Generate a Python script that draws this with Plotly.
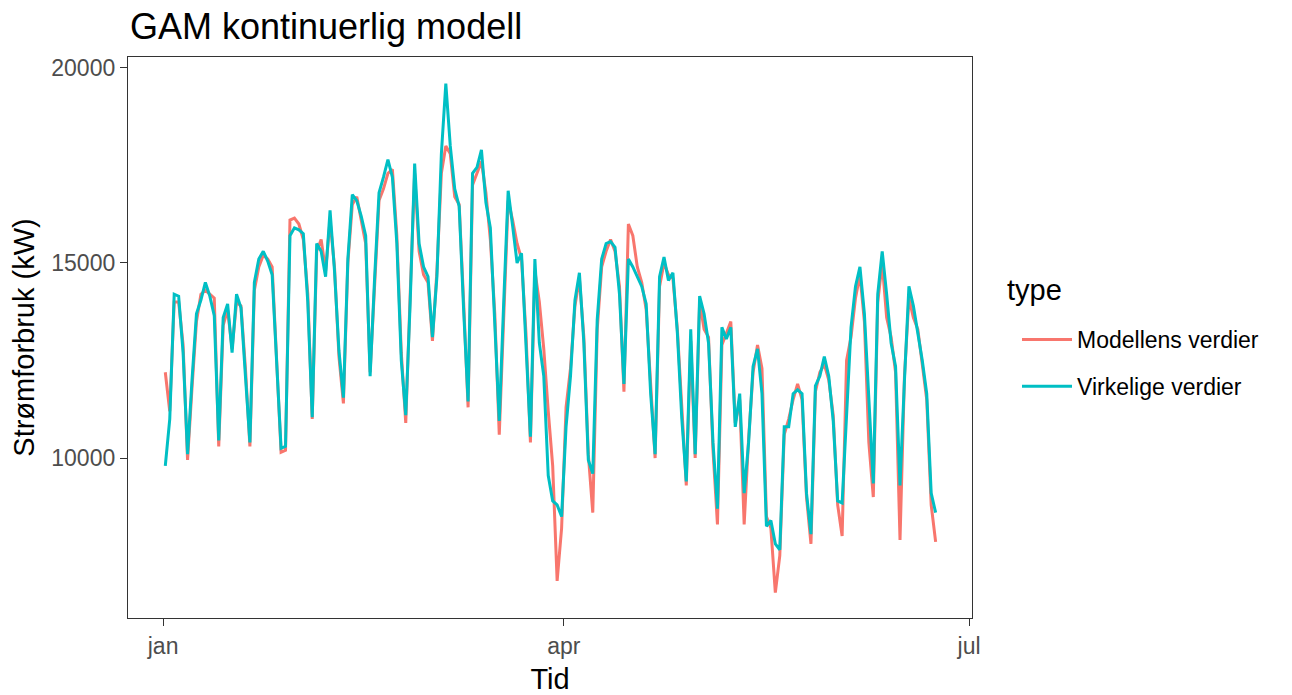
import pandas as pd
import plotly.graph_objects as go

# Daily series, 2018-01-01 .. 2018-06-23
start_date = "2018-01-01 12:00"

virkelige = [
    9800, 11000, 14200, 14150, 12700, 10100, 12000, 13700, 14050, 14500,
    14150, 13650, 10450, 13600, 13950, 12700, 14200, 13850, 12100, 10400,
    14500, 15100, 15300, 15050, 14700, 12300, 10250, 10300, 15700, 15900,
    15850, 15750, 14000, 11050, 15500, 15300, 14650, 16350, 14800, 12750,
    11550, 15100, 16750, 16600, 16200, 15700, 12100, 14600, 16800, 17200,
    17650, 17200, 15500, 12500, 11100, 14000, 17550, 15500, 14900, 14650,
    13100, 14650, 17800, 19600, 18000, 16900, 16450, 13800, 11450, 17300,
    17450, 17900, 16550, 15900, 13500, 10950, 14000, 16850, 15950, 15000,
    15250, 12950, 10550, 15100, 12950, 12100, 9550, 8900, 8800, 8500,
    10800, 12100, 14050, 14750, 12950, 9950, 9600, 13550, 15100, 15500,
    15550, 15400, 14200, 11900, 15100, 14900, 14650, 14400, 13950, 11650,
    10100, 14650, 15150, 14550, 14750, 13200, 11000, 9400, 13300, 10100,
    14150, 13700, 12950, 10400, 8700, 13350, 13050, 13350, 10800, 11650,
    9100, 10400, 12350, 12800, 11650, 8250, 8400, 7800, 7650, 10800,
    10800, 11650, 11750, 11650, 9100, 8050, 11850, 12100, 12600, 12100,
    10950, 8900, 8850, 11250, 13350, 14400, 14900, 13700, 11400, 9350,
    14200, 15300, 14200, 12950, 12350, 9300, 12000, 14400, 13900, 13200,
    12500, 11650, 9100, 8600,
]

modellens = [
    12200, 11200, 14000, 14000, 12900, 9950, 11800, 13500, 14200, 14300,
    14200, 14100, 10300, 13400, 13800, 12800, 14000, 13900, 12300, 10300,
    14300, 14900, 15200, 15100, 14900, 12600, 10150, 10200, 16100, 16150,
    16000, 15600, 14200, 11000, 15300, 15600, 14800, 16100, 14900, 12600,
    11400, 15000, 16500, 16700, 16100, 15500, 12200, 14400, 16600, 16900,
    17300, 17400, 15700, 12700, 10900, 14200, 17300, 15300, 14700, 14500,
    13000, 14800, 17300, 18000, 17800, 16700, 16500, 14000, 11300, 17000,
    17300, 17600, 16800, 15600, 13700, 10600, 13600, 16600, 16100, 15500,
    15100, 13200, 10400, 14800, 14000, 12800, 11200, 9800, 6850, 8200,
    11300, 12300, 13900, 14600, 13100, 10100, 8600, 13300, 14900, 15300,
    15600, 15300, 14400, 11700, 16000, 15700, 14900, 14500, 13800, 11800,
    10000, 14400, 15000, 14700, 14600, 13300, 11200, 9300, 13000, 10000,
    14000, 13300, 13100, 10200, 8300, 12900, 13200, 13500, 10900, 11500,
    8300, 10500, 12200, 12900, 12300, 8500, 8200, 6550, 7500, 10600,
    11000, 11500, 11900, 11500, 9000, 7800, 11700, 12200, 12400, 12000,
    11100, 8800, 8000, 12500, 13100, 14100, 14700, 13500, 10400, 9000,
    14000, 15000, 13600, 13100, 12200, 7900, 12100, 14100, 13600, 13300,
    12400, 11500, 8800, 7850,
]

series_names = ["Modellens verdier", "Virkelige verdier"]
series_colors = ["#F8766D", "#00BFC4"]

x_tick_vals = ["2018-01-01", "2018-04-01", "2018-07-01"]
x_tick_text = ["jan", "apr", "jul"]
y_tick_vals = [10000, 15000, 20000]

dates = pd.date_range(start_date, periods=len(virkelige), freq="D")

fig = go.Figure()
for name, vals, col, grp in [
    (series_names[0], modellens, series_colors[0], "a"),
    (series_names[1], virkelige, series_colors[1], "b"),
]:
    fig.add_trace(go.Scatter(
        x=dates, y=vals, mode="lines", name=name, legendgroup=grp,
        line=dict(color=col, width=3),
    ))

FONT = "Liberation Sans, Arial, sans-serif"
W, H = 1292, 695
L, T, PW, PH = 128, 57, 844, 561

fig.update_layout(
    width=W, height=H,
    margin=dict(l=L, r=W - L - PW, t=T, b=H - T - PH, autoexpand=False),
    paper_bgcolor="white", plot_bgcolor="white",
    font=dict(family=FONT, color="black"),
    title=dict(text="GAM kontinuerlig modell", x=130 / W, xanchor="left",
               y=1 - 26 / H, yanchor="middle",
               font=dict(size=36, color="black", family=FONT)),
    showlegend=True,
    legend=dict(
        font=dict(size=23, color="black"),
        x=(1017 - L) / PW, xanchor="left",
        y=(618 - 318) / PH, yanchor="top",
        tracegroupgap=14, bgcolor="rgba(0,0,0,0)", itemwidth=50,
    ),
    annotations=[dict(
        text="type", xref="paper", yref="paper",
        x=(1005 - L) / PW, xanchor="left",
        y=(618 - 290) / PH, yanchor="middle",
        showarrow=False, font=dict(size=29, color="black", family=FONT),
    )],
    xaxis=dict(
        type="date", automargin=False,
        range=["2017-12-24 03:00", "2018-07-01 16:00"],
        tickvals=x_tick_vals, ticktext=x_tick_text,
        showgrid=False, zeroline=False,
        showline=True, mirror=True, linecolor="#333333", linewidth=1.3,
        ticks="outside", ticklen=7, tickcolor="#333333", tickwidth=1.3,
        tickfont=dict(size=23, color="#4D4D4D"),
        title=dict(text="Tid", font=dict(size=29, color="black"), standoff=12),
    ),
    yaxis=dict(
        range=[5900, 20280], automargin=False,
        tickvals=y_tick_vals, tickformat="d",
        showgrid=False, zeroline=False,
        showline=True, mirror=True, linecolor="#333333", linewidth=1.3,
        ticks="outside", ticklen=7, tickcolor="#333333", tickwidth=1.3,
        tickfont=dict(size=23, color="#4D4D4D"),
        title=dict(text="Strømforbruk (kW)", font=dict(size=29, color="black"), standoff=8),
    ),
)

fig.write_html("out.html", config={"displayModeBar": False},
               post_script="document.body.style.margin='0px';")
